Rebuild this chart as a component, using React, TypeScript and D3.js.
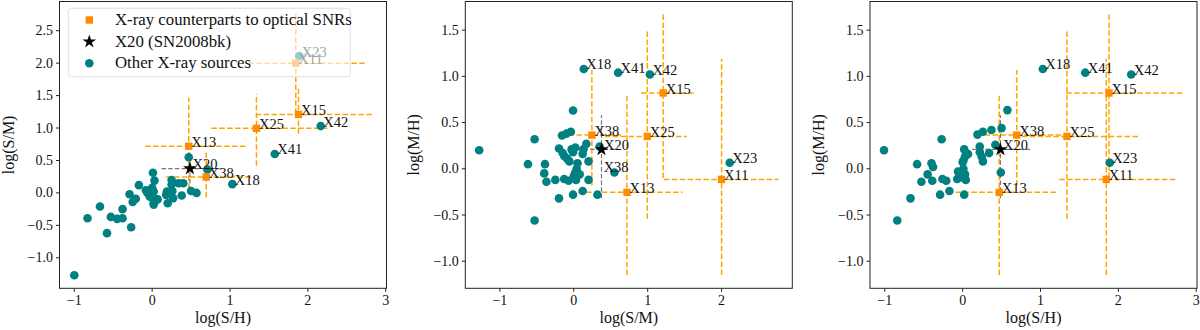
import React, { useRef, useEffect } from "react";
import * as d3 from "d3";

const W = 1200;
const H = 330;

// X-ray counterparts to optical SNRs: value and error range in each colour
const snrNames = ["X11", "X13", "X15", "X25", "X38"];
const snrSH = [1.845, 0.47, 1.88, 1.34, 0.695];
const snrSM = [2.0, 0.72, 1.21, 0.995, 0.245];
const snrMH = [-0.115, -0.255, 0.82, 0.35, 0.365];
const snrSHerr = [[1.24, 2.76], [-0.09, 1.22], [1.33, 2.85], [0.76, 2.28], [0.18, 1.28]];
const snrSMerr = [[1.22, 2.77], [0.06, 1.47], [0.91, 1.62], [0.42, 1.53], [-0.07, 0.64]];
const snrMHerr = [[-1.15, 1.19], [-1.15, 0.8], [-0.1, 1.67], [-0.54, 1.5], [-0.18, 1.07]];

// X20 (SN2008bk)
const starName = "X20";
const starSH = 0.485;
const starSM = 0.375;
const starMH = 0.21;
const starSHerr = [0.12, 0.87];
const starSMerr = [0.04, 0.62];
const starMHerr = [-0.32, 0.58];

// labelled "other" sources
const namedNames = ["X18", "X41", "X42", "X23"];
const namedSH = [1.03, 1.575, 2.165, 1.89];
const namedSM = [0.135, 0.6, 1.03, 2.11];
const namedMH = [1.08, 1.04, 1.02, 0.065];

// unlabelled sources, [log(S/H), log(S/M)]
const others1 = [
  [-1.0, -1.27], [-0.83, -0.39], [-0.67, -0.21], [-0.53, -0.37], [-0.45, -0.4],
  [-0.38, -0.39], [-0.38, -0.25], [-0.27, -0.53], [-0.58, -0.62], [-0.17, 0.12],
  [-0.29, -0.02], [-0.25, -0.14], [-0.21, -0.09], [-0.08, 0.04], [-0.06, 0.0],
  [-0.04, 0.03], [0.01, 0.31], [0.03, 0.19], [0.0, 0.08], [0.02, 0.02],
  [-0.03, -0.06], [0.02, -0.15], [0.07, -0.1], [0.02, -0.18], [0.18, -0.03],
  [0.19, 0.02], [0.2, -0.16], [0.25, 0.2], [0.25, 0.13], [0.26, 0.03],
  [0.27, -0.08], [0.34, 0.15], [0.4, 0.15], [0.38, -0.04], [0.5, 0.03],
  [0.57, 0.0], [0.71, 0.36], [0.47, 0.55], [0.06, -0.1],
];

// unlabelled sources, [log(S/M), log(M/H)]
const others2 = [
  [-1.28, 0.2], [-0.53, 0.32], [-0.01, 0.63], [-0.16, 0.36], [-0.1, 0.38],
  [-0.04, 0.4], [-0.2, 0.22], [-0.03, 0.21], [0.02, 0.23], [-0.01, 0.18],
  [-0.13, 0.14], [-0.09, 0.11], [-0.06, 0.08], [0.17, 0.27], [0.35, 0.24],
  [0.04, 0.0], [0.02, -0.04], [0.08, -0.06], [0.12, 0.16], [-0.62, 0.05],
  [-0.39, 0.05], [-0.4, -0.05], [-0.37, -0.14], [-0.25, -0.12], [-0.13, -0.11],
  [-0.07, -0.13], [0.03, -0.12], [0.2, -0.12], [0.12, -0.24], [-0.01, -0.28],
  [-0.2, -0.32], [0.32, -0.28], [0.55, -0.04], [-0.53, -0.56], [0.2, 0.08],
  [0.05, 0.06], [0.13, 0.21], [-0.15, 0.17], [0.0, -0.08],
];

// unlabelled sources, [log(S/H), log(M/H)]
const others3 = [
  [-1.01, 0.2], [-0.84, -0.56], [-0.67, -0.32], [-0.585, 0.05], [-0.53, -0.14],
  [-0.45, -0.06], [-0.4, 0.06], [-0.38, 0.02], [-0.39, -0.13], [-0.27, 0.32],
  [-0.26, -0.11], [-0.21, -0.13], [-0.29, -0.28], [-0.17, -0.24], [-0.06, -0.03],
  [-0.03, -0.09], [-0.07, -0.11], [0.01, 0.0], [0.03, -0.06], [0.04, -0.12],
  [0.02, -0.28], [0.02, 0.21], [0.07, 0.16], [0.03, 0.13], [0.01, 0.09],
  [0.0, 0.07], [0.19, 0.37], [0.26, 0.4], [0.37, 0.42], [0.5, 0.44],
  [0.575, 0.635], [0.22, 0.24], [0.42, 0.26], [0.22, 0.18], [0.245, 0.13],
  [0.26, 0.08], [0.34, 0.17], [0.49, -0.04],
];

// stray label in the middle panel
const extraLabels2 = [{ name: "X38", x: 0.37, y: -0.03 }];

const xTicksSH = [-1, 0, 1, 2, 3];
const xTicksSM = [-1, 0, 1, 2];
const yTicksSM = [-1.0, -0.5, 0.0, 0.5, 1.0, 1.5, 2.0, 2.5];
const yTicksMH = [-1.0, -0.5, 0.0, 0.5, 1.0, 1.5];

const values = { SH: snrSH, SM: snrSM, MH: snrMH };
const errors = { SH: snrSHerr, SM: snrSMerr, MH: snrMHerr };
const starVal = { SH: starSH, SM: starSM, MH: starMH };
const starErr = { SH: starSHerr, SM: starSMerr, MH: starMHerr };
const namedVal = { SH: namedSH, SM: namedSM, MH: namedMH };

const panels = [
  {
    left: 59.5, xKey: "SH", yKey: "SM", xDomain: [-1.19, 3.01], yDomain: [-1.47, 2.95],
    xTicks: xTicksSH, yTicks: yTicksSM, xLabel: "log(S/H)", yLabel: "log(S/M)",
    others: others1, extra: [], legend: true,
  },
  {
    left: 465.3, xKey: "SM", yKey: "MH", xDomain: [-1.468, 2.957], yDomain: [-1.293, 1.81],
    xTicks: xTicksSM, yTicks: yTicksMH, xLabel: "log(S/M)", yLabel: "log(M/H)",
    others: others2, extra: extraLabels2, legend: false,
  },
  {
    left: 870, xKey: "SH", yKey: "MH", xDomain: [-1.19, 3.01], yDomain: [-1.293, 1.81],
    xTicks: xTicksSH, yTicks: yTicksMH, xLabel: "log(S/H)", yLabel: "log(M/H)",
    others: others3, extra: [], legend: false,
  },
];

const TOP = 1.5;
const BOTTOM = 288.3;
const PW = 327;
const SERIF = "'Liberation Serif', 'DejaVu Serif', serif";
const ORANGE = "#ff8c00";
const ERR_ORANGE = "#ffa500";
const TEAL = "#008080";

const fmtTick = (d, step) => {
  const s = step < 1 ? d.toFixed(1) : d.toFixed(0);
  return s.replace("-", "\u2212");
};

const App = () => {
  const svgRef = useRef(null);

  useEffect(() => {
    const svg = d3.select(svgRef.current);
    svg.selectAll("*").remove();

    panels.forEach((p, pi) => {
      const x = d3.scaleLinear().domain(p.xDomain).range([p.left, p.left + PW]);
      const y = d3.scaleLinear().domain(p.yDomain).range([BOTTOM, TOP]);
      const g = svg.append("g");

      const clipId = `clip-${pi}`;
      svg.append("defs").append("clipPath").attr("id", clipId)
        .append("rect").attr("x", p.left).attr("y", TOP)
        .attr("width", PW).attr("height", BOTTOM - TOP);

      const plot = g.append("g").attr("clip-path", `url(#${clipId})`);
      const xs = values[p.xKey];
      const ys = values[p.yKey];

      // error bars of the SNR counterparts
      snrNames.forEach((_, i) => {
        const ex = errors[p.xKey][i];
        const ey = errors[p.yKey][i];
        plot.append("line")
          .attr("x1", x(ex[0])).attr("x2", x(ex[1]))
          .attr("y1", y(ys[i])).attr("y2", y(ys[i]))
          .attr("stroke", ERR_ORANGE).attr("stroke-width", 1.5)
          .attr("stroke-dasharray", "5.5,2.4");
        plot.append("line")
          .attr("x1", x(xs[i])).attr("x2", x(xs[i]))
          .attr("y1", y(ey[0])).attr("y2", y(ey[1]))
          .attr("stroke", ERR_ORANGE).attr("stroke-width", 1.5)
          .attr("stroke-dasharray", "5.5,2.4");
      });

      // error bars of X20
      const sx = starVal[p.xKey];
      const sy = starVal[p.yKey];
      plot.append("line")
        .attr("x1", x(starErr[p.xKey][0])).attr("x2", x(starErr[p.xKey][1]))
        .attr("y1", y(sy)).attr("y2", y(sy))
        .attr("stroke", "#777").attr("stroke-width", 1.2)
        .attr("stroke-dasharray", "4.5,2.2");
      plot.append("line")
        .attr("x1", x(sx)).attr("x2", x(sx))
        .attr("y1", y(starErr[p.yKey][0])).attr("y2", y(starErr[p.yKey][1]))
        .attr("stroke", "#777").attr("stroke-width", 1.2)
        .attr("stroke-dasharray", "4.5,2.2");

      // other X-ray sources
      plot.selectAll(".other").data(p.others).enter().append("circle")
        .attr("cx", (d) => x(d[0])).attr("cy", (d) => y(d[1]))
        .attr("r", 4.3).attr("fill", TEAL);
      namedNames.forEach((_, i) => {
        plot.append("circle")
          .attr("cx", x(namedVal[p.xKey][i])).attr("cy", y(namedVal[p.yKey][i]))
          .attr("r", 4.3).attr("fill", TEAL);
      });

      // SNR squares
      snrNames.forEach((_, i) => {
        plot.append("rect")
          .attr("x", x(xs[i]) - 3.7).attr("y", y(ys[i]) - 3.7)
          .attr("width", 7.4).attr("height", 7.4).attr("fill", ORANGE);
      });

      // X20 star
      plot.append("path")
        .attr("d", d3.symbol().type(d3.symbolStar).size(58)())
        .attr("transform", `translate(${x(sx)},${y(sy)})`)
        .attr("fill", "#000");

      // labels
      const label = (name, vx, vy) => {
        g.append("text")
          .attr("x", x(vx) + 2.5).attr("y", y(vy) + 0.5)
          .attr("font-family", SERIF).attr("font-size", 14.5)
          .attr("fill", "#111").text(name);
      };
      snrNames.forEach((n, i) => label(n, xs[i], ys[i]));
      label(starName, sx, sy);
      namedNames.forEach((n, i) => label(n, namedVal[p.xKey][i], namedVal[p.yKey][i]));
      p.extra.forEach((e) => label(e.name, e.x, e.y));

      // legend
      if (p.legend) {
        const lg = g.append("g");
        lg.append("rect")
          .attr("x", 68.3).attr("y", 8.3).attr("width", 282).attr("height", 68.4)
          .attr("rx", 3).attr("fill", "#fff").attr("fill-opacity", 0.6)
          .attr("stroke", "#d8d8d8").attr("stroke-width", 0.8);
        const items = [
          { text: "X-ray counterparts to optical SNRs", kind: "square" },
          { text: "X20 (SN2008bk)", kind: "star" },
          { text: "Other X-ray sources", kind: "circle" },
        ];
        items.forEach((it, i) => {
          const cy = 20 + i * 21.6;
          if (it.kind === "square") {
            lg.append("rect").attr("x", 89.3 - 3.7).attr("y", cy - 3.7)
              .attr("width", 7.4).attr("height", 7.4).attr("fill", ORANGE);
          } else if (it.kind === "star") {
            lg.append("path")
              .attr("d", d3.symbol().type(d3.symbolStar).size(58)())
              .attr("transform", `translate(89.3,${cy})`).attr("fill", "#000");
          } else {
            lg.append("circle").attr("cx", 89.3).attr("cy", cy).attr("r", 4.3).attr("fill", TEAL);
          }
          lg.append("text").attr("x", 115).attr("y", cy + 5)
            .attr("font-family", SERIF).attr("font-size", 16.8).attr("fill", "#111")
            .text(it.text);
        });
      }

      // frame
      g.append("rect")
        .attr("x", p.left).attr("y", TOP).attr("width", PW).attr("height", BOTTOM - TOP)
        .attr("fill", "none").attr("stroke", "#222").attr("stroke-width", 1);

      // ticks
      p.xTicks.forEach((t) => {
        g.append("line").attr("x1", x(t)).attr("x2", x(t))
          .attr("y1", BOTTOM).attr("y2", BOTTOM + 3.5).attr("stroke", "#222");
        g.append("text").attr("x", x(t)).attr("y", BOTTOM + 17)
          .attr("text-anchor", "middle").attr("font-family", SERIF).attr("font-size", 14)
          .attr("fill", "#111").text(fmtTick(t, 1));
      });
      p.yTicks.forEach((t) => {
        g.append("line").attr("x1", p.left - 3.5).attr("x2", p.left)
          .attr("y1", y(t)).attr("y2", y(t)).attr("stroke", "#222");
        g.append("text").attr("x", p.left - 6.5).attr("y", y(t) + 4.5)
          .attr("text-anchor", "end").attr("font-family", SERIF).attr("font-size", 14)
          .attr("fill", "#111").text(fmtTick(t, 0.5));
      });

      // axis labels
      g.append("text").attr("x", p.left + PW / 2).attr("y", 323)
        .attr("text-anchor", "middle").attr("font-family", SERIF).attr("font-size", 16)
        .attr("fill", "#111").text(p.xLabel);
      g.append("text")
        .attr("transform", `translate(${p.left - 46},${(TOP + BOTTOM) / 2}) rotate(-90)`)
        .attr("text-anchor", "middle").attr("font-family", SERIF).attr("font-size", 16)
        .attr("fill", "#111").text(p.yLabel);
    });
  }, []);

  return (
    <svg
      ref={svgRef}
      width={W}
      height={H}
      style={{ position: "absolute", left: 0, top: 0, background: "#fff" }}
    />
  );
};

export default App;
